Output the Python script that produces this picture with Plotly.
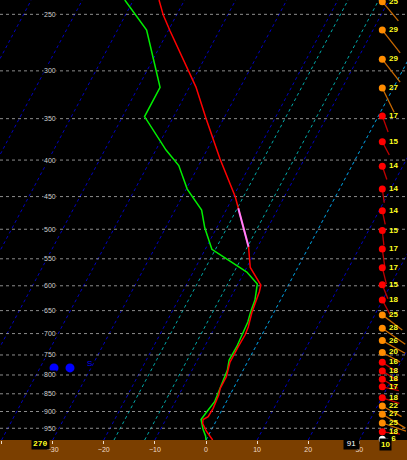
import numpy as np
import plotly.graph_objects as go

# colours used on the chart
COLORS = {
    'ground': '#7b3f00',
    'isotherm': '#0000c0',
    'special_iso': '#00a8a8',
    'grid': '#8c8c8c',
    'temp': '#ff0000',
    'dewp': '#00ee00',
    'layer': '#ff80ff',
    'label': '#d0d0d0',
    'tick': '#f0dcc8',
    'wind_text': '#ffff20',
}

# temperature profile (hPa, degC)
TEMP_P = [238.7, 250.6, 263.4, 300.8, 316.1, 349.6, 398.7, 450.2, 467.4, 528.9,
          565.6, 598.5, 611.5, 628.1, 654.0, 685.3, 703.2, 730.3, 768.4, 804.5,
          835.1, 853.4, 867.2, 890.8, 915.2, 923.5, 934.9, 958.3, 986.6]
TEMP_C = [-55.0, -52.6, -49.7, -41.8, -38.7, -33.5, -26.5, -19.6, -17.8, -11.8,
          -9.3, -5.4, -5.0, -4.7, -4.3, -3.5, -3.3, -3.4, -3.4, -2.6,
          -2.6, -2.2, -2.1, -1.9, -2.0, -2.7, -2.4, -0.9, 1.3]

# dewpoint profile (hPa, degC)
DEWP_P = [238.7, 263.0, 289.7, 316.4, 347.6, 375.0, 387.3, 407.1, 439.2, 469.9,
          498.0, 533.4, 543.3, 561.1, 573.9, 596.5, 628.1, 652.7, 674.4, 730.3,
          762.3, 787.3, 848.7, 872.0, 895.7, 923.5, 952.8, 973.9, 986.6]
DEWP_C = [-61.7, -54.3, -49.8, -45.7, -45.7, -40.2, -38.0, -33.9, -29.8, -24.8,
          -22.3, -18.7, -16.4, -12.2, -9.5, -6.2, -5.0, -4.6, -4.1, -3.7,
          -3.8, -3.1, -2.6, -2.3, -2.7, -3.1, -1.7, -0.5, 0.0]

# highlighted layer on the temperature trace (hPa)
LAYER_TOP, LAYER_BOT = 467.4, 528.9

# wind column (hPa, kt, deg)
WIND_P = [240, 263, 289, 317, 347, 377, 408, 439, 471, 502, 533, 566, 598, 628,
          659, 688, 716, 744, 768, 790, 811, 831, 861, 884, 908, 934, 961, 984]
WIND_SPD = [25, 29, 29, 27, 17, 15, 14, 14, 14, 15, 17, 17, 15, 18,
            25, 28, 26, 20, 16, 18, 18, 17, 18, 22, 27, 25, 18, 6]
WIND_DIR = [320, 322, 322, 334, 340, 332, 341, 352, 348, 354, 352, 346, 338, 332,
            307, 305, 299, 298, 303, 302, 300, 283, 288, 299, 301, 289, 277, 270]

# surface obs shown in the ground strip
SFC_P = 1018
SFC_SPD = 10
SFC_DIR = '270'
SFC_VALUE = '91'

# precip icon
ICON_P = 782
ICON_TEXT = 'S'

PRESSURE_LEVELS = list(range(250, 1000, 50))
ISOTHERMS = list(range(-120, 50, 10))
SPECIAL_ISOTHERMS = [-18, -12, 0]
TEMP_TICKS = [-40, -30, -20, -10, 0, 10, 20, 30]

# diagram geometry
P_TOP, P_BOT = 238.7, 986.6
SKEW = 32.28
X_MIN, X_MAX = -40.31, 39.33
W, H, GROUND = 407, 460, 20
PX_X = W / (X_MAX - X_MIN)
PX_LNP = (H - GROUND) / np.log(P_BOT / P_TOP)


def skew_x(t, p):
    return np.asarray(t, float) + SKEW * np.log(P_BOT / np.asarray(p, float))


def px_to_x(px):
    return X_MIN + px / PX_X


def line_set(xs_list, ys_list):
    xs, ys = [], []
    for a, b in zip(xs_list, ys_list):
        xs += list(a) + [None]
        ys += list(b) + [None]
    return xs, ys


fig = go.Figure()

# isotherms
pp = [P_BOT, P_TOP]
xs, ys = line_set([skew_x([t, t], pp) for t in ISOTHERMS], [pp] * len(ISOTHERMS))
fig.add_trace(go.Scatter(x=xs, y=ys, mode='lines',
                         line=dict(color=COLORS['isotherm'], width=1, dash='dot')))
xs, ys = line_set([skew_x([t, t], pp) for t in SPECIAL_ISOTHERMS], [pp] * len(SPECIAL_ISOTHERMS))
fig.add_trace(go.Scatter(x=xs, y=ys, mode='lines',
                         line=dict(color=COLORS['special_iso'], width=1, dash='dot')))

# pressure lines
xs, ys = line_set([[X_MIN, X_MAX]] * len(PRESSURE_LEVELS), [[p, p] for p in PRESSURE_LEVELS])
fig.add_trace(go.Scatter(x=xs, y=ys, mode='lines',
                         line=dict(color=COLORS['grid'], width=1, dash='dot')))

# profiles
fig.add_trace(go.Scatter(x=skew_x(DEWP_C, DEWP_P), y=DEWP_P, mode='lines',
                         line=dict(color=COLORS['dewp'], width=1.5)))
fig.add_trace(go.Scatter(x=skew_x(TEMP_C, TEMP_P), y=TEMP_P, mode='lines',
                         line=dict(color=COLORS['temp'], width=1.5)))
lay = [(t, p) for t, p in zip(TEMP_C, TEMP_P) if LAYER_TOP <= p <= LAYER_BOT]
fig.add_trace(go.Scatter(x=skew_x([a[0] for a in lay], [a[1] for a in lay]),
                         y=[a[1] for a in lay], mode='lines',
                         line=dict(color=COLORS['layer'], width=2)))

# wind sticks + dots
dot_x = px_to_x(382.3)
lab_x = px_to_x(393.5)


def wind_color(s):
    if s <= 10:
        return '#ffffff', '#d0d0d0'
    if s < 20:
        return '#ff0000', '#c00000'
    return '#ff8c00', '#c86800'


for p, s, d in zip(WIND_P + [SFC_P], WIND_SPD + [SFC_SPD], WIND_DIR + [int(SFC_DIR)]):
    to = np.radians(d + 180)
    dx = s * np.sin(to) / PX_X
    dy = -s * np.cos(to) / PX_LNP
    dot_c, stick_c = wind_color(s)
    fig.add_trace(go.Scatter(x=[dot_x, dot_x + dx], y=[p, p * np.exp(dy)], mode='lines',
                             line=dict(color=stick_c, width=1.3), cliponaxis=False))
    fig.add_trace(go.Scatter(x=[dot_x], y=[p], mode='markers', cliponaxis=False,
                             marker=dict(color=dot_c, size=7, line=dict(width=0))))

fig.add_trace(go.Scatter(x=[lab_x] * len(WIND_P), y=WIND_P, mode='text',
                         text=[str(s) for s in WIND_SPD], cliponaxis=False,
                         textfont=dict(color=COLORS['wind_text'], size=8,
                                       family='Liberation Sans', weight='bold')))

# precip icon
fig.add_trace(go.Scatter(x=[px_to_x(54), px_to_x(70)], y=[ICON_P, ICON_P], mode='markers',
                         marker=dict(color='#0000ff', size=9)))

annotations = []
for p in PRESSURE_LEVELS:
    annotations.append(dict(x=43 / W, xref='paper', y=np.log10(p), yref='y',
                            text=str(p), showarrow=False, bgcolor='black', borderpad=0,
                            font=dict(color=COLORS['label'], size=7, family='Liberation Sans')))
annotations.append(dict(x=85 / W, xref='paper', y=np.log10(ICON_P) - 0.006, yref='y',
                        text=ICON_TEXT, showarrow=False,
                        font=dict(color='#0000ff', size=8, family='Liberation Sans')))
sfc_y = -10 / (H - GROUND)
annotations.append(dict(x=30.5 / W, xref='paper', y=sfc_y, yref='paper', text=SFC_DIR,
                        showarrow=False, bgcolor='black', borderpad=1,
                        font=dict(color=COLORS['wind_text'], size=8, family='Liberation Mono',
                                  weight='bold')))
annotations.append(dict(x=360 / W, xref='paper', y=sfc_y, yref='paper', text=SFC_VALUE,
                        showarrow=False, bgcolor='black', borderpad=1, width=13,
                        font=dict(color='#ffffff', size=8, family='Liberation Sans')))
annotations.append(dict(x=392 / W, xref='paper', y=sfc_y - 0.002, yref='paper',
                        text=str(SFC_SPD), showarrow=False, bgcolor='black', borderpad=1,
                        font=dict(color=COLORS['wind_text'], size=8, family='Liberation Sans',
                                  weight='bold')))

fig.update_layout(
    width=W, height=H,
    margin=dict(l=0, r=0, t=0, b=GROUND, pad=0, autoexpand=False),
    paper_bgcolor=COLORS['ground'],
    plot_bgcolor='black',
    showlegend=False,
    hovermode=False,
    annotations=annotations,
    xaxis=dict(range=[X_MIN, X_MAX], showgrid=False, zeroline=False, automargin=False,
               tickvals=TEMP_TICKS, ticks='outside', ticklen=3, tickcolor=COLORS['tick'],
               tickfont=dict(color=COLORS['tick'], size=7, family='Liberation Sans')),
    yaxis=dict(type='log', range=[np.log10(P_BOT), np.log10(P_TOP)], showgrid=False,
               zeroline=False, showticklabels=False, ticks='', automargin=False,
               showline=True, linecolor='#808080', linewidth=1),
)

# page body margin off so the chart fills the window
fig.write_html("out.html", config={'displayModeBar': False},
               post_script="document.body.style.margin='0';")
